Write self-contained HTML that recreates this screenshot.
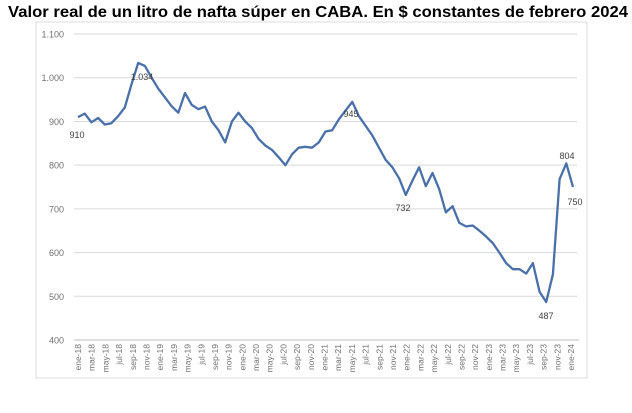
<!DOCTYPE html>
<html><head><meta charset="utf-8"><style>
body{margin:0;background:#fff;width:632px;height:408px;overflow:hidden;font-family:"Liberation Sans",sans-serif}
</style></head><body>
<svg id="s" width="632" height="408" xmlns="http://www.w3.org/2000/svg" font-family="Liberation Sans, sans-serif">
<text x="8" y="17" font-size="16" font-weight="bold" fill="#000" textLength="620" lengthAdjust="spacingAndGlyphs">Valor real de un litro de nafta súper en CABA. En $ constantes de febrero 2024</text>
<rect x="36" y="22" width="551" height="356" fill="none" stroke="#ddd"/>
<g id="g"></g>
</svg>
<script>
const s=document.getElementById('g');
const ns="http://www.w3.org/2000/svg";
function el(t,a,txt){const e=document.createElementNS(ns,t);for(const k in a)e.setAttribute(k,a[k]);if(txt!==undefined)e.textContent=txt;s.appendChild(e);return e;}
const y0=340,k=0.4371;const Y=v=>y0-(v-400)*k;
for(let v=400;v<=1100;v+=100){
 if(v>400)el('line',{x1:74,x2:577,y1:Y(v),y2:Y(v),stroke:'#d9d9d9','stroke-width':1});
 el('text',{x:64,y:Y(v)+3.5,'font-size':9,'text-anchor':'end',fill:'#707070'},v>=1000?(v/1000|0)+'.'+String(v%1000).padStart(3,'0'):v);
}
el('line',{x1:74,x2:579,y1:340,y2:340,stroke:'#bfbfbf'});
const d=[910,918,898,908,893,896,912,932,985,1034,1027,1000,975,955,935,920,965,938,928,934,900,880,852,900,920,900,885,860,845,835,818,800,825,840,842,840,852,877,880,905,925,945,912,890,868,840,812,795,770,732,765,795,752,782,745,692,706,668,660,662,650,637,622,600,576,562,562,552,576,510,487,550,768,804,750];
const n=d.length,x0=78,x1=573,dx=(x1-x0)/(n-1);
el('polyline',{points:d.map((v,i)=>(x0+i*dx).toFixed(1)+','+Y(v).toFixed(1)).join(' '),fill:'none',stroke:'#4a70aa','stroke-width':2.3,'stroke-linejoin':'round'});
const labs=[[77,138,'910'],[142,80,'1.034'],[351,117,'945'],[403,211,'732'],[567,159,'804'],[575,205,'750'],[546,319,'487']];
labs.forEach(l=>el('text',{x:l[0],y:l[1],'font-size':9,'text-anchor':'middle',fill:'#404040'},l[2]));
const m=['ene','mar','may','jul','sep','nov'];
for(let i=0;i<37;i++){const x=78+i*(571-78)/36;const lab=m[i%6]+'-'+(18+Math.floor(i/6));
 el('text',{x:0,y:0,'font-size':8.5,fill:'#707070','text-anchor':'end',transform:`translate(${x+3},344) rotate(-90)`},lab);}
</script>
</body></html>
